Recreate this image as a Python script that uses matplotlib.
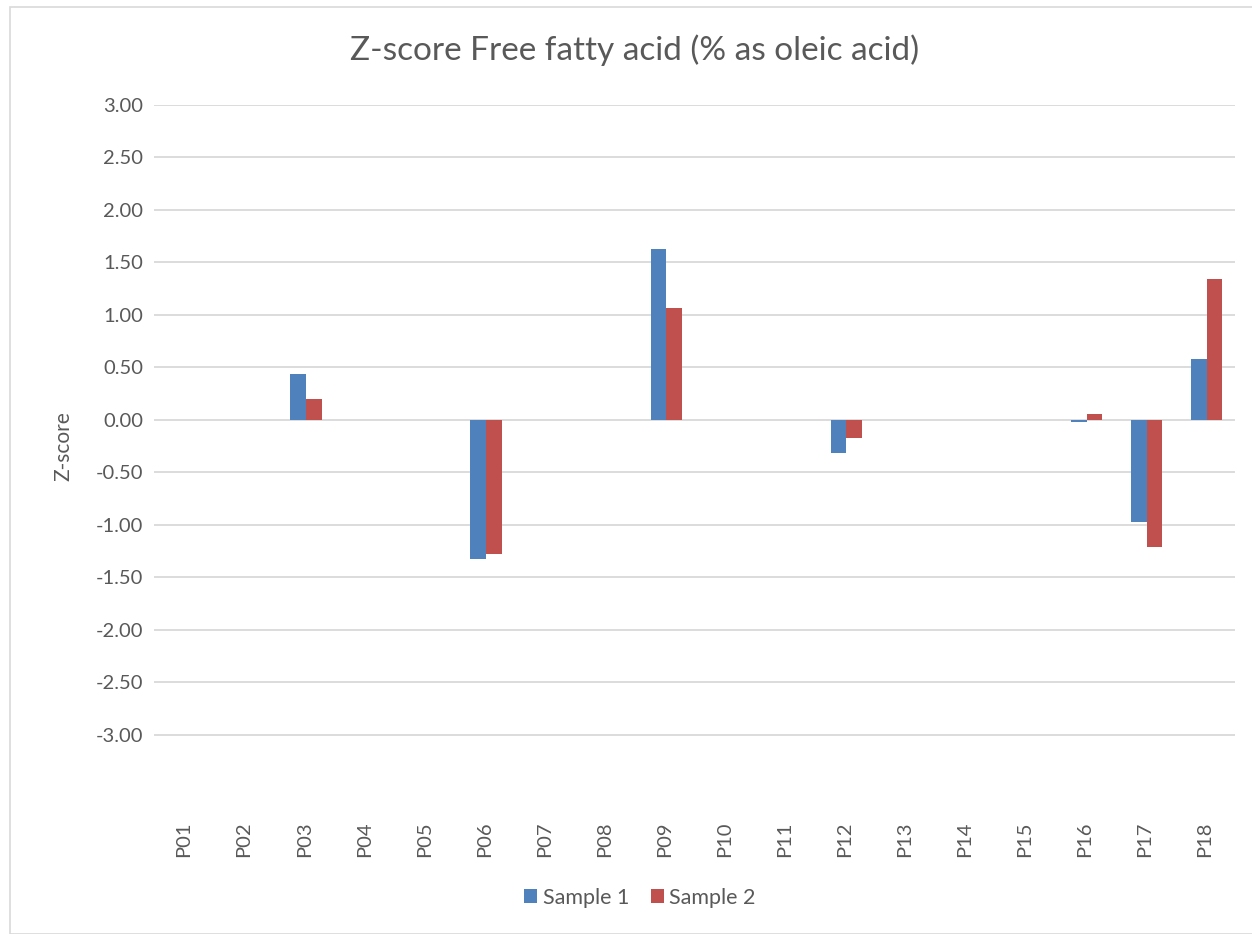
import matplotlib
matplotlib.use("Agg")
import matplotlib.pyplot as plt
import numpy as np
from matplotlib.patches import Rectangle

categories = ["P01", "P02", "P03", "P04", "P05", "P06", "P07", "P08", "P09",
              "P10", "P11", "P12", "P13", "P14", "P15", "P16", "P17", "P18"]
sample1 = [np.nan, np.nan, 0.44, np.nan, np.nan, -1.33, np.nan, np.nan, 1.63,
           np.nan, np.nan, -0.32, np.nan, np.nan, np.nan, -0.02, -0.97, 0.58]
sample2 = [np.nan, np.nan, 0.20, np.nan, np.nan, -1.28, np.nan, np.nan, 1.07,
           np.nan, np.nan, -0.17, np.nan, np.nan, np.nan, 0.055, -1.21, 1.34]
yticks = [3.0, 2.5, 2.0, 1.5, 1.0, 0.5, 0.0, -0.5, -1.0, -1.5, -2.0, -2.5, -3.0]

plt.rcParams['font.family'] = ['Lato', 'DejaVu Sans']
gray = "#595959"

W, H = 1252, 934
fig = plt.figure(figsize=(W / 100, H / 100), dpi=100)
ax = fig.add_axes([154 / W, 1 - 787 / H, (1235 - 154) / W, (787 - 105) / H])

x = np.arange(len(categories))
bw = 0.26
ax.bar(x - bw / 2 + 0.03, sample1, width=bw, color="#4F81BD", label="Sample 1", zorder=3)
ax.bar(x + bw / 2 + 0.03, sample2, width=bw, color="#C0504D", label="Sample 2", zorder=3)

ax.set_xlim(-0.5, len(categories) - 0.5)
ax.set_ylim(-3.5, 3.0)
ax.set_yticks(yticks)
ax.set_yticklabels([f"{v:.2f}" for v in yticks])
for v in yticks:
    ax.axhline(v, color="#d9d9d9", lw=1.3, zorder=1)
ax.grid(False)
for s in ax.spines.values():
    s.set_visible(False)
ax.tick_params(axis='both', length=0, colors=gray, labelsize=14.5)
ax.tick_params(axis='y', pad=8)
ax.set_xticks(x)
ax.set_xticklabels(categories, rotation=90)
ax.tick_params(axis='x', pad=25)
ax.set_ylabel("Z-score", color=gray, fontsize=15, labelpad=16)

fig.text(635 / W, 1 - 50 / H, "Z-score Free fatty acid (% as oleic acid)",
         ha="center", va="center", fontsize=24, color=gray)

leg = fig.legend(loc="center", bbox_to_anchor=(640 / W, 1 - 898 / H), ncol=2,
                 frameon=False, fontsize=15.5, handlelength=0.62, handleheight=0.62,
                 columnspacing=1.0, handletextpad=0.25)
for t in leg.get_texts():
    t.set_color(gray)

fig.patches.append(Rectangle((10 / W, 0.0), 1.2, 1 - 7 / H, transform=fig.transFigure,
                             fill=False, edgecolor="#d9d9d9", lw=1.2))

fig.savefig("out.png", dpi=100, facecolor="white")
